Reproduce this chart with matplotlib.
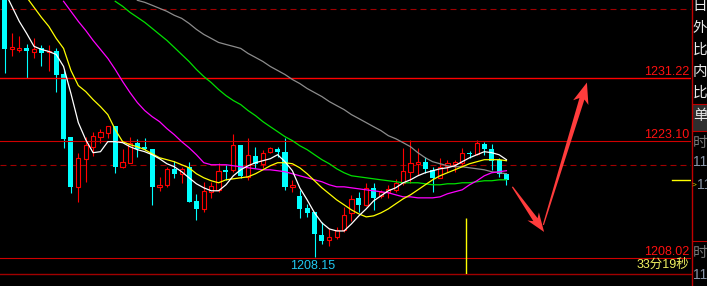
import numpy as np
import matplotlib
matplotlib.use('Agg')
import matplotlib.pyplot as plt
from matplotlib.patches import Polygon, Rectangle

plt.rcParams['lines.scale_dashes'] = False

# ---- candles (oldest first) ----
opens = [1241.80, 1234.84, 1234.71, 1234.97, 1234.45, 1234.97, 1234.45, 1234.58, 1231.74, 1223.61,
         1217.16, 1220.77, 1222.32, 1223.61, 1224.13, 1225.03, 1219.74, 1220.26, 1222.84, 1222.32,
         1222.06, 1217.16, 1217.42, 1219.48, 1218.84, 1219.74, 1215.35, 1214.32, 1216.52, 1216.77,
         1219.35, 1219.35, 1222.58, 1218.45, 1221.16, 1220.13, 1221.68, 1222.06, 1221.68, 1217.16,
         1215.99, 1214.45, 1213.94, 1210.97, 1210.32, 1210.71, 1211.61, 1213.81, 1215.74, 1214.84,
         1217.03, 1215.99, 1216.52, 1216.77, 1217.68, 1219.10, 1220.13, 1220.39, 1219.35, 1218.32,
         1219.90, 1220.13, 1220.26, 1221.55, 1221.42, 1222.71, 1222.06, 1220.65, 1218.84]
highs = [1242.06, 1236.90, 1236.52, 1235.48, 1236.26, 1235.35, 1235.35, 1234.97, 1232.26, 1223.61,
         1221.55, 1223.61, 1224.26, 1224.65, 1225.03, 1225.03, 1222.06, 1223.61, 1223.35, 1223.48,
         1222.06, 1218.45, 1219.74, 1220.52, 1219.74, 1220.39, 1216.26, 1217.81, 1217.81, 1220.26,
         1220.00, 1224.00, 1222.58, 1223.48, 1222.32, 1221.94, 1222.32, 1222.32, 1223.48, 1218.06,
         1216.77, 1214.97, 1213.94, 1212.65, 1211.87, 1212.00, 1214.58, 1216.13, 1216.52, 1217.68,
         1217.68, 1216.77, 1217.42, 1218.19, 1222.19, 1223.23, 1222.19, 1221.03, 1219.74, 1220.90,
         1220.65, 1220.65, 1222.19, 1221.81, 1223.23, 1222.97, 1222.71, 1220.90, 1218.97]
lows = [1231.87, 1233.94, 1234.45, 1231.22, 1233.68, 1232.77, 1232.00, 1229.42, 1222.19, 1216.39,
        1215.23, 1217.81, 1221.16, 1222.84, 1223.48, 1218.97, 1219.61, 1220.26, 1221.03, 1221.94,
        1214.84, 1216.65, 1217.16, 1218.32, 1217.68, 1215.23, 1212.90, 1213.94, 1215.74, 1216.52,
        1218.06, 1219.10, 1218.32, 1218.06, 1219.61, 1219.61, 1221.55, 1221.03, 1216.77, 1216.52,
        1213.16, 1213.29, 1208.15, 1209.81, 1209.55, 1210.45, 1211.35, 1212.77, 1213.94, 1214.71,
        1214.19, 1215.74, 1215.74, 1216.52, 1217.42, 1217.68, 1218.71, 1218.97, 1216.52, 1218.32,
        1219.10, 1219.10, 1220.00, 1220.90, 1221.29, 1221.29, 1219.35, 1218.45, 1217.42]
closes = [1234.84, 1235.10, 1234.97, 1234.58, 1234.84, 1234.32, 1234.58, 1231.61, 1223.35, 1217.16,
          1220.90, 1222.58, 1223.74, 1224.26, 1225.03, 1219.74, 1220.39, 1222.84, 1222.06, 1222.06,
          1217.16, 1217.42, 1219.48, 1218.84, 1219.48, 1215.23, 1214.32, 1216.65, 1217.29, 1219.23,
          1219.10, 1222.58, 1218.58, 1221.29, 1220.13, 1221.55, 1222.19, 1221.68, 1217.16, 1217.42,
          1214.32, 1213.81, 1211.10, 1210.19, 1210.71, 1211.61, 1213.55, 1215.61, 1214.84, 1217.03,
          1215.74, 1216.52, 1216.90, 1217.68, 1219.23, 1220.26, 1220.39, 1219.48, 1218.32, 1219.74,
          1220.26, 1220.39, 1221.55, 1221.42, 1222.84, 1222.06, 1220.52, 1218.84, 1218.06]

# ---- moving averages, read per candle (start = first visible candle) ----
ma_white_start = 0
ma_white = [1242.32, 1240.39, 1238.45, 1236.90, 1235.23, 1234.84, 1234.58, 1234.19, 1232.65, 1229.16,
            1225.42, 1223.23, 1221.55, 1221.68, 1222.97, 1222.97, 1222.84, 1222.32, 1221.94, 1221.68,
            1221.29, 1220.77, 1220.13, 1219.74, 1219.10, 1218.32, 1217.55, 1217.03, 1216.65, 1216.65,
            1217.42, 1218.58, 1219.35, 1219.87, 1220.26, 1220.52, 1220.77, 1221.29, 1220.39, 1219.23,
            1217.03, 1215.48, 1213.81, 1212.52, 1211.74, 1211.48, 1211.48, 1212.39, 1213.42, 1214.32,
            1215.35, 1216.00, 1216.65, 1217.03, 1217.68, 1218.06, 1218.58, 1218.97, 1219.23, 1219.48,
            1219.61, 1219.87, 1220.39, 1220.90, 1221.29, 1221.68, 1221.55, 1221.29, 1220.65]
ma_yellow_start = 3
ma_yellow = [1241.55, 1240.26, 1238.97, 1237.81, 1236.26, 1234.97, 1232.13, 1230.19, 1229.42, 1228.39,
             1227.48, 1226.45, 1224.52, 1222.97, 1222.58, 1222.32, 1221.94, 1221.42, 1220.90, 1220.65,
             1220.39, 1220.00, 1219.61, 1218.84, 1218.32, 1217.94, 1217.68, 1218.06, 1218.19, 1218.32,
             1218.45, 1218.84, 1219.35, 1219.87, 1220.26, 1220.26, 1220.13, 1219.61, 1218.84, 1217.94,
             1217.03, 1216.26, 1215.48, 1214.84, 1214.19, 1213.68, 1213.29, 1213.42, 1213.81, 1214.32,
             1214.97, 1215.61, 1216.13, 1216.77, 1217.42, 1218.06, 1218.58, 1218.97, 1219.35, 1219.74,
             1220.13, 1220.39, 1220.65, 1220.65, 1220.65, 1220.52]
ma_magenta_start = 8
ma_magenta = [1241.03, 1239.74, 1238.45, 1237.29, 1236.00, 1234.84, 1233.68, 1232.26, 1230.71, 1229.29,
              1228.00, 1226.97, 1226.19, 1225.55, 1224.65, 1223.87, 1222.97, 1222.19, 1221.29, 1220.26,
              1220.00, 1220.00, 1220.00, 1219.87, 1219.74, 1219.61, 1219.48, 1219.35, 1219.35, 1219.23,
              1219.10, 1218.84, 1218.58, 1218.32, 1218.06, 1217.81, 1217.42, 1217.16, 1217.16, 1217.03,
              1216.90, 1216.77, 1216.65, 1216.52, 1216.39, 1216.13, 1215.87, 1215.87, 1215.74, 1215.74,
              1215.74, 1215.87, 1216.26, 1216.52, 1216.77, 1217.42, 1217.94, 1218.58, 1218.97, 1219.10,
              1219.23]
ma_green_start = 15
ma_green = [1241.03, 1240.39, 1239.61, 1238.97, 1238.32, 1237.55, 1236.77, 1236.00, 1235.10, 1234.19,
            1233.29, 1232.26, 1231.35, 1230.58, 1229.68, 1228.90, 1228.26, 1227.74, 1226.97, 1226.32,
            1225.55, 1224.90, 1224.26, 1223.61, 1223.10, 1222.45, 1221.94, 1221.29, 1220.65, 1220.13,
            1219.48, 1218.97, 1218.58, 1218.45, 1218.32, 1218.19, 1218.06, 1217.94, 1217.81, 1217.68,
            1217.68, 1217.68, 1217.55, 1217.42, 1217.42, 1217.55, 1217.55, 1217.68, 1217.68, 1217.81,
            1217.94, 1217.94, 1218.06, 1218.06]
ma_gray_start = 18
ma_gray = [1241.16, 1240.90, 1240.52, 1240.13, 1239.74, 1239.23, 1238.84, 1238.19, 1237.42, 1236.77,
           1236.26, 1235.74, 1235.48, 1235.23, 1234.97, 1234.32, 1233.81, 1233.29, 1232.65, 1232.13,
           1231.61, 1230.97, 1230.45, 1229.81, 1229.29, 1228.77, 1228.13, 1227.61, 1227.10, 1226.45,
           1225.94, 1225.42, 1224.90, 1224.39, 1223.74, 1223.35, 1222.84, 1222.32, 1221.55, 1220.90,
           1220.39, 1220.13, 1219.87, 1219.74, 1219.74, 1219.61, 1219.48, 1219.35, 1219.10, 1218.97,
           1218.84]

levels = [1231.22, 1223.10, 1208.02]
grid_levels = [1240.0, 1220.0]
low_idx = 42
low_price = 1208.15
countdown = '33分19秒'
cursor_idx = 62.5
cursor_top = 1213.2
arrow_down = ((68.8, 1217.16), (73.1, 1211.35))
arrow_up = ((73.0, 1212.26), (78.9, 1230.58))

side_top = ['日', '外', '比', '内', '比', '单']
side_top_y = [6, 28, 50, 72, 93, 116]

W, H = 707, 286
fig = plt.figure(figsize=(W / 100, H / 100), dpi=100, facecolor='black')
ax = fig.add_axes([0, 12 / H, 691 / W, 274 / H], facecolor='black')
ax.set_xlim(-0.61, 93.0)
ax.set_ylim(1205.94, 1241.2)
ax.set_xticks([])
ax.set_yticks([])
for s in ['top', 'left', 'right']:
    ax.spines[s].set_visible(False)
ax.spines['bottom'].set_color('#a00000')
ax.spines['bottom'].set_linewidth(1)

o = np.array(opens)
c = np.array(closes)
hi = np.array(highs)
lo = np.array(lows)
x = np.arange(len(o))
up = c > o
dn = ~up
red = '#ff0000'
cyan = '#00ffff'

ax.vlines(x[up], lo[up], hi[up], color=red, lw=0.8, zorder=2)
ax.vlines(x[dn], lo[dn], hi[dn], color=cyan, lw=0.8, zorder=2)
body = np.maximum(np.abs(c - o), 0.09)
bottom = np.minimum(o, c)
ax.bar(x[up], body[up], bottom=bottom[up], width=0.58, facecolor='black',
       edgecolor=red, lw=0.8, zorder=3)
ax.bar(x[dn], body[dn], bottom=bottom[dn], width=0.68, color=cyan, lw=0, zorder=3)

# level lines
ax.axhline(levels[0], color='#ff0000', lw=1, zorder=4)
ax.axhline(levels[1], color='#d00000', lw=0.8, zorder=4)
ax.axhline(levels[2], color='#d00000', lw=0.8, zorder=4)
for g in grid_levels:
    ax.axhline(g, color='#a00000', lw=0.8, dashes=(4.3, 2.9), zorder=1)
for lv in levels:
    ax.text(1 - 1.5 / 691, lv, f'{lv:.2f}', transform=ax.get_yaxis_transform(),
            ha='right', va='bottom', color='#ff1010', fontsize=9,
            family='Liberation Sans', zorder=6)

# moving averages
for start, vals, col in [(ma_gray_start, ma_gray, '#8c8c8c'),
                         (ma_green_start, ma_green, '#00e000'),
                         (ma_magenta_start, ma_magenta, '#ff00ff'),
                         (ma_yellow_start, ma_yellow, '#ffff00'),
                         (ma_white_start, ma_white, '#ffffff')]:
    xs = np.arange(start, start + len(vals))
    ax.plot(xs, vals, color=col, lw=0.9, zorder=5)

# lowest price label
ax.annotate(f'{low_price:.2f}', xy=(low_idx, low_price), xytext=(-2, -3),
            textcoords='offset pixels', ha='center', va='top', color='#20c8f0',
            fontsize=9, family='Liberation Sans', zorder=6)

# countdown, last price marker, cursor
ax.text(1 - 1.5 / 691, (274 - 265) / 274, countdown, transform=ax.transAxes,
        ha='right', va='center', color='#f0f060', fontsize=9,
        family=['Liberation Sans', 'Noto Sans CJK SC'], zorder=6)
ax.axhline(closes[-1], xmin=672 / 691, xmax=1, color='#ffff00', lw=1, zorder=6)
ax.vlines(cursor_idx, 1205.94, cursor_top, color='#ffff00', lw=1, zorder=4)


def tapered_arrow(ax, start, end, color, head_len=17, head_w=8, neck_w=2.6, tail_w=0.6):
    t = ax.transData
    p0 = t.transform(start)
    p1 = t.transform(end)
    d = p1 - p0
    u = d / np.hypot(*d)
    nrm = np.array([-u[1], u[0]])
    b = p1 - u * head_len
    pts = [p0 + nrm * tail_w, b + nrm * neck_w, b - u * 4 + nrm * head_w, p1,
           b - u * 4 - nrm * head_w, b - nrm * neck_w, p0 - nrm * tail_w]
    pts = t.inverted().transform(np.array(pts))
    ax.add_patch(Polygon(pts, closed=True, facecolor=color, lw=0, zorder=7))


tapered_arrow(ax, arrow_down[0], arrow_down[1], '#ff3c3c', head_len=15, head_w=7)
tapered_arrow(ax, arrow_up[0], arrow_up[1], '#ff3c3c')

# right side panel
side = fig.add_axes([691 / W, 0, 16 / W, 1])
side.set_xlim(0, 16)
side.set_ylim(H, 0)
side.axis('off')
side.plot([0.7, 0.7], [0, H], color='#c00000', lw=1)
for yy in [104, 131, 241]:
    side.plot([0.7, 16], [yy, yy], color='#c00000', lw=0.8)
side.add_patch(Rectangle((1.2, 105), 15, 25.5, facecolor='#2e2e2e', lw=0))
for ch, yy in zip(side_top, side_top_y):
    side.text(1.8, yy, ch, ha='left', va='center', color='#e8e8e8', fontsize=10.5,
              family=['Noto Sans CJK SC'])
for ch, yy in [('时', 143), ('时', 253)]:
    side.text(1.8, yy, ch, ha='left', va='center', color='#7a7a7a', fontsize=10.5,
              family=['Noto Sans CJK SC'])
for yy in [162, 275]:
    side.text(2.5, yy, '11', ha='left', va='center', color='#8a96a8', fontsize=10,
              family='Liberation Sans')
side.text(0.9, 185, '>', ha='left', va='center', color='#c8c800', fontsize=6,
          family='Liberation Sans')
side.text(6.0, 185, '11', ha='left', va='center', color='#8a96a8', fontsize=10,
          family='Liberation Sans')

fig.savefig('out.png', dpi=100, facecolor='black')
